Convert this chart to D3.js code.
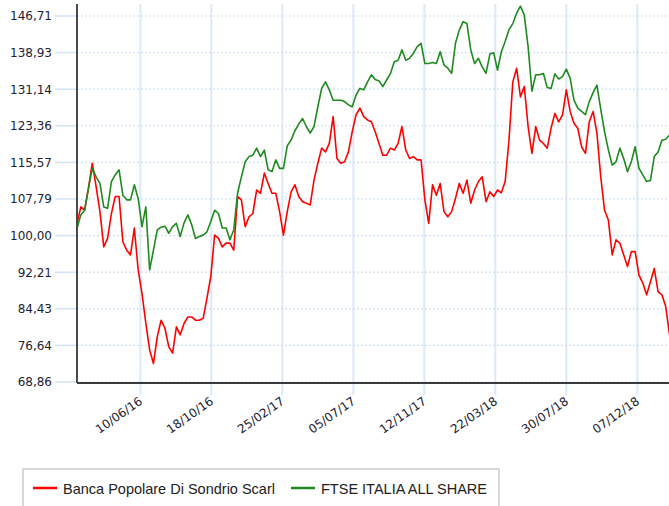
<!DOCTYPE html>
<html>
<head>
<meta charset="utf-8">
<script src="https://cdn.jsdelivr.net/npm/d3@7"></script>
<style>
  body { margin: 0; background: #fff; }
  svg { display: block; }
</style>
</head>
<body>
<svg id="chart" width="669" height="506"></svg>
<script>
// Series names, in legend order
const seriesNames = ["Banca Popolare Di Sondrio Scarl", "FTSE ITALIA ALL SHARE"];
const seriesColors = ["#ff0000", "#1f8a1f"];

// Weekly closes (rebased to 100), first week below
const firstWeek = "2016-02-15";
const bancaValues = [
  102.5, 106.1, 105.4, 110.1, 115.4, 110.4, 105.1, 97.6, 99.4, 104.7,
  108.3, 108.3, 98.7, 96.9, 95.9, 101.6, 92.7, 87.7, 81.4, 75.7,
  72.8, 78.5, 82.0, 80.3, 76.4, 75.0, 80.6, 78.9, 81.3, 82.7,
  82.7, 82.0, 82.0, 82.4, 86.7, 91.3, 100.1, 99.4, 97.6, 98.4,
  98.4, 96.9, 108.3, 107.6, 101.9, 104.0, 104.7, 109.7, 109.0, 113.3,
  111.1, 109.0, 109.0, 105.1, 100.1, 105.1, 109.3, 110.8, 108.3, 107.2,
  106.9, 106.5, 111.8, 115.4, 118.6, 117.8, 119.6, 125.3, 116.4, 115.4,
  115.7, 117.8, 122.1, 125.7, 127.1, 125.3, 124.6, 124.2, 122.1, 119.6,
  117.1, 117.1, 118.6, 118.2, 119.6, 123.2, 118.2, 116.4, 116.8, 116.1,
  116.1, 107.6, 102.6, 110.8, 108.6, 111.1, 105.1, 104.0, 105.1, 107.9,
  111.1, 109.0, 111.8, 106.9, 109.7, 111.5, 112.5, 107.2, 109.3, 108.3,
  109.7, 109.1, 111.5, 120.3, 132.7, 135.6, 129.5, 131.7, 123.2, 117.5,
  123.2, 120.3, 119.6, 118.6, 122.8, 126.0, 124.2, 125.7, 131.0, 126.4,
  123.9, 122.8, 118.9, 117.5, 124.2, 126.4, 121.8, 112.5, 105.4, 103.3,
  95.9, 99.1, 98.4, 95.9, 93.4, 96.6, 96.6, 91.6, 89.9, 87.4,
  90.2, 93.0, 88.1, 87.4, 84.9, 78.9
];
const ftseValues = [
  101.5, 104.4, 105.4, 110.1, 114.3, 112.5, 111.1, 106.1, 105.8, 111.5,
  112.9, 114.0, 108.6, 107.6, 107.6, 110.8, 107.9, 101.9, 106.1, 92.7,
  96.9, 101.2, 101.8, 102.0, 100.5, 101.9, 102.6, 99.8, 102.7, 104.4,
  102.3, 99.4, 99.8, 100.1, 100.8, 103.0, 105.4, 104.7, 101.6, 101.6,
  99.1, 101.2, 109.0, 112.5, 115.7, 116.8, 117.1, 118.6, 116.8, 118.2,
  114.0, 113.6, 116.1, 114.3, 114.3, 119.1, 120.3, 122.3, 123.7, 124.9,
  123.2, 121.8, 123.2, 127.4, 131.3, 132.7, 131.0, 128.8, 128.8, 128.8,
  128.5, 127.8, 127.4, 129.9, 131.3, 131.0, 132.7, 134.2, 133.2, 132.9,
  131.7, 133.1, 134.5, 137.0, 137.3, 139.5, 137.3, 137.7, 138.8, 140.2,
  140.9, 136.6, 136.6, 136.8, 136.6, 139.1, 136.3, 135.6, 134.5, 140.9,
  143.7, 145.5, 145.1, 139.5, 136.6, 137.7, 135.9, 134.5, 138.6, 138.9,
  135.2, 139.1, 141.3, 143.8, 145.1, 147.3, 148.8, 146.9, 140.2, 130.7,
  134.2, 134.2, 134.5, 131.5, 131.3, 134.4, 133.3, 133.8, 135.4, 133.5,
  128.8, 127.1, 126.4, 125.7, 128.5, 130.4, 132.0, 126.9, 122.1, 118.2,
  115.0, 115.7, 118.6, 116.4, 113.6, 115.7, 118.9, 114.3, 112.9, 111.5,
  111.7, 116.8, 117.8, 120.3, 120.5, 121.4
];

// Axis ticks
const yTicks = [68.86, 76.64, 84.43, 92.21, 100.00, 107.79, 115.57, 123.36, 131.14, 138.93, 146.71];
const yTickLabels = ["68,86", "76,64", "84,43", "92,21", "100,00", "107,79", "115,57", "123,36", "131,14", "138,93", "146,71"];
const xTicks = ["2016-06-10", "2016-10-18", "2017-02-25", "2017-07-05", "2017-11-12", "2018-03-22", "2018-07-30", "2018-12-07"];
const xTickLabels = ["10/06/16", "18/10/16", "25/02/17", "05/07/17", "12/11/17", "22/03/18", "30/07/18", "07/12/18"];
const xDomain = ["2016-02-15", "2019-02-03"];
const yDomain = [68.86, 149.26];

const parseDate = d3.timeParse("%Y-%m-%d");

const svg = d3.select("#chart");
const margin = { top: 4, right: 0, bottom: 123, left: 77 };
const width = +svg.attr("width") - margin.left - margin.right;
const height = +svg.attr("height") - margin.top - margin.bottom;

const g = svg.append("g").attr("transform", `translate(${margin.left},${margin.top})`);

const x = d3.scaleTime()
    .domain(xDomain.map(parseDate))
    .range([0, width]);

const y = d3.scaleLinear()
    .domain(yDomain)
    .range([height - 1, 0]);

const start = parseDate(firstWeek);
const toPoints = vals => vals.map((v, i) => ({ date: d3.timeDay.offset(start, 7 * i), value: v }));
const series = [toPoints(bancaValues), toPoints(ftseValues)];

const font = "'DejaVu Sans', Verdana, sans-serif";

// vertical grid (solid, runs a bit below the axis)
g.append("g")
    .selectAll("line")
    .data(xTicks)
    .join("line")
    .attr("x1", d => x(parseDate(d)))
    .attr("x2", d => x(parseDate(d)))
    .attr("y1", 0)
    .attr("y2", height + 12)
    .attr("stroke", "#dde9f7")
    .attr("stroke-width", 2);

// horizontal grid: short solid tick left of the axis, dotted inside
const hGrid = g.append("g");
hGrid.selectAll(".tick-out")
    .data(yTicks)
    .join("line")
    .attr("class", "tick-out")
    .attr("x1", -22)
    .attr("x2", 0)
    .attr("y1", d => y(d))
    .attr("y2", d => y(d))
    .attr("stroke", "#d3e3f4")
    .attr("stroke-width", 1.5);
hGrid.selectAll(".tick-in")
    .data(yTicks)
    .join("line")
    .attr("class", "tick-in")
    .attr("x1", 0)
    .attr("x2", width)
    .attr("y1", d => y(d))
    .attr("y2", d => y(d))
    .attr("stroke", "#cfe0f2")
    .attr("stroke-width", 1.2)
    .attr("stroke-dasharray", "2,2");

// y labels
g.append("g")
    .selectAll("text")
    .data(yTicks)
    .join("text")
    .attr("x", -25)
    .attr("y", d => y(d))
    .attr("dy", "0.36em")
    .attr("text-anchor", "end")
    .style("font-family", font)
    .style("font-size", "12px")
    .style("fill", "#1c2233")
    .text((d, i) => yTickLabels[i]);

// x labels (rotated)
g.append("g")
    .selectAll("text")
    .data(xTicks)
    .join("text")
    .attr("transform", d => `translate(${x(parseDate(d)) + 3},${height + 20}) rotate(-35)`)
    .attr("text-anchor", "end")
    .style("font-family", font)
    .style("font-size", "12px")
    .style("fill", "#1c2233")
    .text((d, i) => xTickLabels[i]);

// lines
g.append("clipPath").attr("id", "plot-clip")
    .append("rect").attr("width", width).attr("height", height);

const line = d3.line()
    .x(d => x(d.date))
    .y(d => y(d.value));

g.append("g")
    .attr("clip-path", "url(#plot-clip)")
    .selectAll("path")
    .data(series)
    .join("path")
    .attr("d", line)
    .attr("fill", "none")
    .attr("stroke", (d, i) => seriesColors[i])
    .attr("stroke-width", 1.6)
    .attr("stroke-linejoin", "round");

// axis lines
g.append("line")
    .attr("x1", 0).attr("x2", 0)
    .attr("y1", 0).attr("y2", height)
    .attr("stroke", "#4a4a4a")
    .attr("stroke-width", 2);
g.append("line")
    .attr("x1", 0).attr("x2", width)
    .attr("y1", height).attr("y2", height)
    .attr("stroke", "#3a3a3a")
    .attr("stroke-width", 2);

// legend
const legend = svg.append("g").attr("transform", "translate(23,469)");
legend.append("rect")
    .attr("width", 476)
    .attr("height", 60)
    .attr("fill", "#fff")
    .attr("stroke", "#cccccc")
    .attr("stroke-width", 1.5);

const legendX = [10, 268];
seriesNames.forEach((name, i) => {
    const row = legend.append("g").attr("transform", `translate(${legendX[i]},19)`);
    row.append("line")
        .attr("x1", 0).attr("x2", 24)
        .attr("stroke", seriesColors[i])
        .attr("stroke-width", 2.5);
    row.append("text")
        .attr("x", 30)
        .attr("y", 6)
        .style("font-family", "'Liberation Sans', Arial, sans-serif")
        .style("font-size", "14.5px")
        .style("fill", "#222")
        .text(name);
});
</script>
</body>
</html>
